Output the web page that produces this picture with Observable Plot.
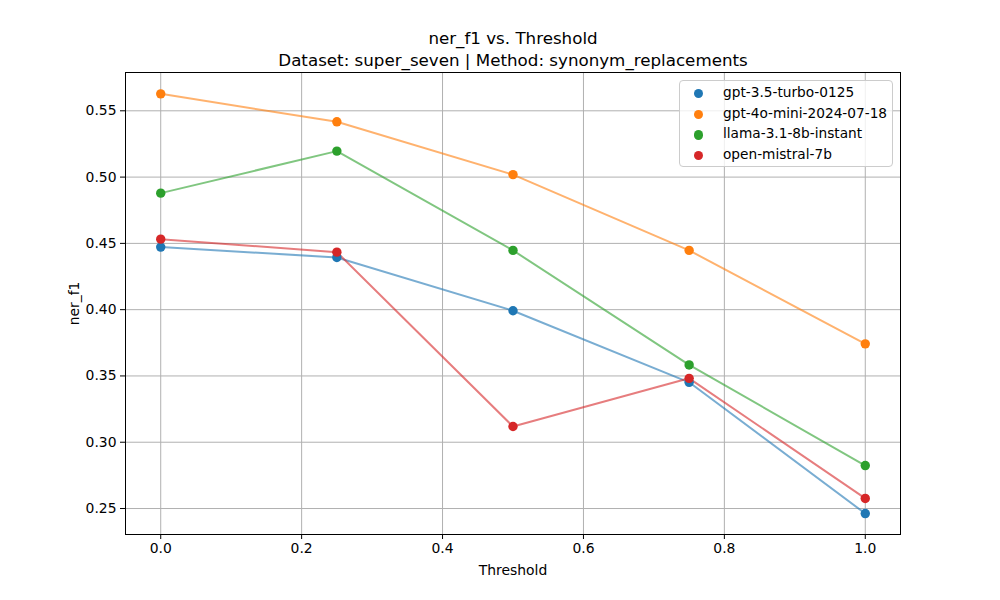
<!DOCTYPE html>
<html>
<head>
<meta charset="utf-8">
<script src="https://cdn.jsdelivr.net/npm/d3@7"></script>
<script src="https://cdn.jsdelivr.net/npm/@observablehq/plot@0.6"></script>
<style>
  html, body { margin: 0; padding: 0; background: #fff; }
  #wrap { position: relative; width: 1000px; height: 600px; font-family: "DejaVu Sans", sans-serif; }
  #legend { position: absolute; left: 679px; top: 80px; width: 214px; height: 87px;
    border: 1px solid #cccccc; border-radius: 4px; background: rgba(255,255,255,0.8); box-sizing: border-box; }
  .row { position: absolute; left: 0; height: 20px; font-size: 13.7px; color: #000; white-space: nowrap; }
  .sw { position: absolute; left: 14px; width: 9.4px; height: 9.4px; border-radius: 50%; }
  .lbl { position: absolute; left: 43px; }
</style>
</head>
<body>
<div id="wrap">
  <div id="chart"></div>
  <div id="legend"></div>
</div>
<script>
const thresholds = [0, 0.25, 0.5, 0.75, 1.0];
const models = ["gpt-3.5-turbo-0125", "gpt-4o-mini-2024-07-18", "llama-3.1-8b-instant", "open-mistral-7b"];
const colors = ["#1f77b4", "#ff7f0e", "#2ca02c", "#d62728"];
const gpt35 = [0.4472, 0.4394, 0.3992, 0.3452, 0.2462];
const gpt4o = [0.5628, 0.5417, 0.5019, 0.4447, 0.3742];
const llama = [0.4879, 0.5196, 0.4447, 0.3583, 0.2824];
const mistral = [0.4532, 0.4434, 0.3119, 0.3482, 0.2576];
const xTicks = [0, 0.2, 0.4, 0.6, 0.8, 1.0];
const yTicks = [0.25, 0.30, 0.35, 0.40, 0.45, 0.50, 0.55];
const title1 = "ner_f1 vs. Threshold";
const title2 = "Dataset: super_seven | Method: synonym_replacements";
const xLabel = "Threshold";
const yLabel = "ner_f1";

const series = [gpt35, gpt4o, llama, mistral];
const rows = [];
models.forEach((m, i) => thresholds.forEach((t, j) => rows.push({model: m, threshold: t, value: series[i][j]})));

const chart = Plot.plot({
  width: 1000,
  height: 600,
  marginLeft: 125,
  marginRight: 100,
  marginTop: 72,
  marginBottom: 66,
  style: {fontFamily: "DejaVu Sans, sans-serif", fontSize: "13.9px", background: "white", color: "black"},
  x: {domain: [-0.05, 1.05]},
  y: {domain: [0.2304, 0.5789]},
  color: {domain: models, range: colors},
  marks: [
    Plot.gridX(xTicks, {stroke: "#b0b0b0", strokeOpacity: 1, strokeWidth: 1}),
    Plot.gridY(yTicks, {stroke: "#b0b0b0", strokeOpacity: 1, strokeWidth: 1}),
    Plot.axisX(xTicks, {tickFormat: d3.format(".1f"), tickSize: 5, tickPadding: 4, label: null, strokeWidth: 1}),
    Plot.axisY(yTicks, {tickFormat: d3.format(".2f"), tickSize: 5, tickPadding: 4, label: null, strokeWidth: 1}),
    Plot.line(rows, {x: "threshold", y: "value", z: "model", stroke: "model", strokeOpacity: 0.6, strokeWidth: 2}),
    Plot.dot(rows, {x: "threshold", y: "value", fill: "model", r: 4.7}),
    Plot.frame({stroke: "black", strokeWidth: 1}),
    Plot.text([title1], {text: d => d, frameAnchor: "top", textAnchor: "middle", lineAnchor: "bottom", dy: -28.5, fontSize: 16.7}),
    Plot.text([title2], {text: d => d, frameAnchor: "top", textAnchor: "middle", lineAnchor: "bottom", dy: -7, fontSize: 16.7}),
    Plot.text([xLabel], {text: d => d, frameAnchor: "bottom", textAnchor: "middle", lineAnchor: "bottom", dy: 40}),
    Plot.text([yLabel], {text: d => d, frameAnchor: "left", textAnchor: "middle", lineAnchor: "bottom", dx: -47, dy: 0, rotate: -90})
  ]
});
document.getElementById("chart").appendChild(chart);

const legend = document.getElementById("legend");
const rowTops = [3, 23.6, 44.2, 64.8];
models.forEach((m, i) => {
  const r = document.createElement("div");
  r.className = "row";
  r.style.top = rowTops[i] + "px";
  const sw = document.createElement("div");
  sw.className = "sw";
  sw.style.background = colors[i];
  sw.style.top = "5px";
  const lb = document.createElement("div");
  lb.className = "lbl";
  lb.textContent = m;
  r.appendChild(sw);
  r.appendChild(lb);
  legend.appendChild(r);
});
</script>
</body>
</html>
